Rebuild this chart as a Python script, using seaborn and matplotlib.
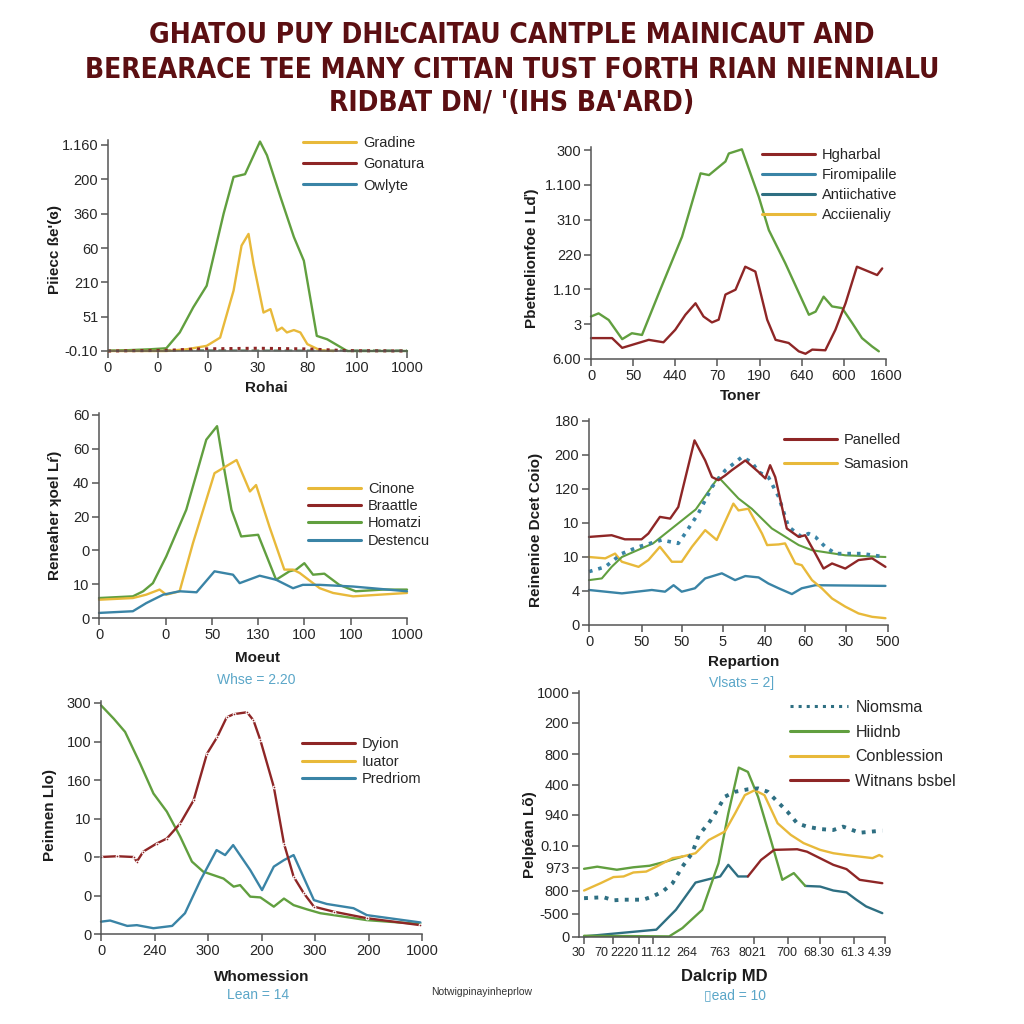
import matplotlib.pyplot as plt
import seaborn as sns
from matplotlib.lines import Line2D

# ---------------- data (x / y in tick-index units) ----------------
# panel 1
p1_xticks = ['0', '0', '0', '30', '80', '100', '1000']
p1_yticks = ['-0.10', '51', '210', '60', '360', '200', '1.160']
p1_green_x = [0, 0.84, 1.17, 1.44, 1.71, 1.98, 2.32, 2.52, 2.75, 3.05, 3.19, 3.46, 3.73, 3.93, 4.19, 4.4, 4.8, 6]
p1_green_y = [0, 0.05, 0.08, 0.54, 1.27, 1.9, 4.0, 5.07, 5.15, 6.1, 5.7, 4.49, 3.32, 2.63, 0.44, 0.34, 0, 0]
p1_yellow_x = [0, 1.17, 1.58, 1.98, 2.25, 2.52, 2.68, 2.82, 2.92, 3.12, 3.26, 3.39, 3.49, 3.59, 3.73, 3.86, 4.0, 4.26, 4.53]
p1_yellow_y = [0, 0, 0.05, 0.15, 0.39, 1.76, 3.07, 3.41, 2.54, 1.12, 1.22, 0.59, 0.68, 0.54, 0.61, 0.54, 0.2, 0.02, 0]
p1_red_x = [0, 1.2, 1.8, 3.0, 4.0, 4.8, 6]
p1_red_y = [0, 0.02, 0.06, 0.08, 0.06, 0.01, 0]
p1_base_x = [0, 1.5, 3.0, 4.5, 6]
p1_base_y = [0.02, 0.03, 0.02, 0.02, 0.02]

# panel 2
p2_xticks = ['0', '50', '440', '70', '190', '640', '600', '1600']
p2_yticks = ['6.00', '3', '1.10', '220', '310', '1.100', '300']
p2_green_x = [0, 0.18, 0.42, 0.74, 0.97, 1.21, 1.61, 2.16, 2.6, 2.8, 3.19, 3.27, 3.58, 3.98, 4.22, 4.61,
              5.17, 5.33, 5.52, 5.72, 5.96, 6.2, 6.43, 6.67, 6.83]
p2_green_y = [1.22, 1.31, 1.12, 0.57, 0.74, 0.69, 1.89, 3.51, 5.33, 5.28, 5.67, 5.9, 6.02, 4.66, 3.7, 2.75,
              1.27, 1.36, 1.79, 1.51, 1.46, 1.03, 0.6, 0.36, 0.22]
p2_red_x = [0, 0.5, 0.74, 1.37, 1.72, 2.0, 2.24, 2.48, 2.67, 2.87, 3.03, 3.19, 3.43, 3.66, 3.9, 4.18, 4.38,
            4.69, 4.93, 5.09, 5.25, 5.56, 5.8, 6.04, 6.31, 6.59, 6.79, 6.91]
p2_red_y = [0.6, 0.6, 0.32, 0.55, 0.48, 0.84, 1.27, 1.6, 1.22, 1.05, 1.13, 1.85, 1.99, 2.65, 2.51, 1.13, 0.55,
            0.46, 0.22, 0.15, 0.27, 0.25, 0.84, 1.6, 2.65, 2.51, 2.41, 2.6]

# panel 3
p3_xpos = [0, 1.30, 2.21, 3.10, 4.0, 4.91, 6.0]
p3_xticks = ['0', '0', '50', '130', '100', '100', '1000']
p3_yticks = ['0', '10', '0', '20', '40', '60', '60']
p3_green_x = [0, 0.66, 0.86, 1.05, 1.31, 1.7, 2.09, 2.3, 2.42, 2.58, 2.77, 3.1, 3.45, 3.71, 3.84, 4.0, 4.17,
              4.39, 4.68, 5.0, 5.53, 6]
p3_green_y = [0.59, 0.64, 0.79, 1.03, 1.82, 3.2, 5.27, 5.67, 4.57, 3.2, 2.41, 2.46, 1.13, 1.38, 1.43, 1.62,
              1.28, 1.31, 0.98, 0.79, 0.84, 0.84]
p3_yellow_x = [0, 0.66, 0.92, 1.18, 1.31, 1.57, 1.83, 2.25, 2.68, 2.94, 3.06, 3.32, 3.61, 3.78, 3.91, 4.3,
               4.56, 4.95, 6]
p3_yellow_y = [0.54, 0.59, 0.69, 0.84, 0.69, 0.79, 2.21, 4.28, 4.67, 3.74, 3.93, 2.7, 1.43, 1.43, 1.33, 0.88,
               0.74, 0.64, 0.74]
p3_blue_x = [0, 0.66, 0.92, 1.25, 1.57, 1.9, 2.25, 2.61, 2.74, 3.13, 3.45, 3.78, 3.97, 4.3, 4.95, 6]
p3_blue_y = [0.15, 0.2, 0.44, 0.69, 0.79, 0.76, 1.38, 1.28, 1.03, 1.25, 1.13, 0.88, 0.98, 0.98, 0.93, 0.79]

# panel 4
p4_xpos = [0, 1.23, 2.17, 3.13, 4.11, 5.06, 6.02, 7.0]
p4_xticks = ['0', '50', '50', '5', '40', '60', '30', '500']
p4_yticks = ['0', '4', '10', '10', '120', '200', '180']
p4_red_x = [0, 0.53, 0.84, 1.23, 1.39, 1.66, 1.9, 2.09, 2.47, 2.72, 2.88, 3.03, 3.19, 3.34, 3.66, 3.97, 4.13,
            4.24, 4.36, 4.63, 4.91, 5.06, 5.3, 5.49, 5.69, 6.0, 6.31, 6.63, 6.94]
p4_red_y = [2.59, 2.64, 2.52, 2.52, 2.69, 3.18, 3.13, 3.47, 5.43, 4.84, 4.35, 4.26, 4.4, 4.55, 4.84, 4.5, 4.31,
            4.7, 4.35, 2.84, 2.59, 2.64, 2.1, 1.66, 1.81, 1.66, 1.91, 1.96, 1.71]
p4_dots_x = [0, 0.38, 0.77, 1.16, 1.7, 2.09, 2.25, 2.56, 2.88, 3.19, 3.58, 3.81, 3.97, 4.2, 4.44, 4.67, 4.98,
             5.14, 5.3, 5.53, 5.77, 6.39, 6.94]
p4_dots_y = [1.57, 1.71, 2.1, 2.3, 2.5, 2.4, 2.69, 3.28, 4.06, 4.55, 4.94, 4.79, 4.5, 4.35, 3.77, 2.89, 2.59,
             2.69, 2.59, 2.3, 2.1, 2.1, 2.0]
p4_green_x = [0, 0.3, 0.53, 0.77, 1.5, 2.5, 3.03, 3.5, 3.81, 4.28, 4.91, 5.22, 6.0, 6.94]
p4_green_y = [1.32, 1.37, 1.71, 2.0, 2.4, 3.4, 4.35, 3.72, 3.42, 2.84, 2.35, 2.2, 2.05, 2.0]
p4_yellow_x = [0, 0.38, 0.61, 0.77, 1.16, 1.39, 1.66, 1.94, 2.17, 2.41, 2.72, 2.99, 3.38, 3.5, 3.73, 4.05,
               4.17, 4.44, 4.59, 4.83, 4.98, 5.22, 5.45, 5.69, 6.0, 6.31, 6.63, 6.94]
p4_yellow_y = [2.0, 1.96, 2.1, 1.86, 1.71, 1.91, 2.3, 1.86, 1.86, 2.3, 2.79, 2.5, 3.57, 3.37, 3.42, 2.69,
               2.35, 2.37, 2.4, 1.81, 1.76, 1.32, 1.08, 0.78, 0.54, 0.34, 0.24, 0.2]
p4_blue_x = [0, 0.77, 1.47, 1.78, 1.98, 2.17, 2.48, 2.72, 3.11, 3.42, 3.66, 3.97, 4.2, 4.44, 4.75, 4.98, 5.3,
             6.94]
p4_blue_y = [1.03, 0.93, 1.03, 0.98, 1.17, 0.98, 1.08, 1.37, 1.52, 1.32, 1.44, 1.4, 1.22, 1.08, 0.91, 1.08,
             1.17, 1.15]

# panel 5
p5_xticks = ['0', '240', '300', '200', '300', '200', '1000']
p5_yticks = ['0', '0', '0', '10', '160', '100', '300']
p5_green_x = [0, 0.24, 0.45, 0.73, 0.98, 1.23, 1.48, 1.7, 1.91, 2.1, 2.29, 2.48, 2.6, 2.79, 2.98, 3.23, 3.42,
              3.6, 3.85, 4.1, 4.35, 4.97, 5.97]
p5_green_y = [5.94, 5.59, 5.25, 4.43, 3.65, 3.18, 2.53, 1.88, 1.62, 1.53, 1.44, 1.23, 1.27, 0.97, 0.95, 0.71,
              0.92, 0.75, 0.64, 0.54, 0.49, 0.36, 0.26]
p5_red_x = [0, 0.3, 0.61, 0.67, 0.79, 1.04, 1.23, 1.48, 1.73, 1.98, 2.17, 2.35, 2.48, 2.73, 2.85, 2.98, 3.23,
            3.42, 3.6, 3.79, 3.98, 4.35, 4.97, 5.97]
p5_red_y = [2.0, 2.02, 2.0, 1.88, 2.14, 2.35, 2.48, 2.87, 3.47, 4.68, 5.11, 5.63, 5.71, 5.76, 5.55, 5.03, 3.82,
            2.35, 1.49, 1.06, 0.71, 0.58, 0.41, 0.23]
p5_blue_x = [0, 0.17, 0.49, 0.67, 0.98, 1.33, 1.57, 1.86, 2.16, 2.32, 2.47, 2.79, 3.01, 3.23, 3.42, 3.6, 3.98,
             4.22, 4.72, 4.97, 5.97]
p5_blue_y = [0.32, 0.35, 0.21, 0.23, 0.15, 0.21, 0.54, 1.4, 2.18, 2.05, 2.31, 1.66, 1.14, 1.75, 1.92, 2.05,
             0.88, 0.78, 0.67, 0.49, 0.3]

# panel 6
p6_xmarks = [0, 0.87, 1.63, 2.04, 3.03, 4.02, 5.04, 6.03, 6.99, 7.98, 8.91]
p6_xpos = [-0.15, 0.5, 1.2, 2.12, 3.03, 4.02, 4.98, 6.0, 6.95, 7.95, 8.75]
p6_xticks = ['30', '70', '2220', '11.12', '264', '763', '8021', '700', '68.30', '61.3', '4.39']
p6_ypos = [0, 0.76, 1.52, 2.26, 2.98, 4.0, 4.98, 5.97, 7.0, 7.98]
p6_yticks = ['0', '-500', '800', '973', '0.10', '940', '400', '800', '200', '1000']
p6_dots_x = [0, 0.58, 0.87, 1.17, 1.75, 2.04, 2.33, 2.62, 2.91, 3.2, 3.4, 3.69, 3.88, 4.17, 4.47, 4.85, 5.15,
             5.44, 5.73, 6.02, 6.31, 6.6, 6.99, 7.38, 7.67, 8.16, 8.83]
p6_dots_y = [1.27, 1.3, 1.2, 1.22, 1.22, 1.33, 1.49, 1.76, 2.3, 2.74, 3.34, 3.72, 4.04, 4.59, 4.75, 4.83, 4.86,
             4.75, 4.42, 4.1, 3.72, 3.61, 3.53, 3.5, 3.61, 3.41, 3.48]
p6_yellow_x = [0, 0.49, 0.87, 1.17, 1.46, 1.84, 2.14, 2.62, 2.91, 3.3, 3.69, 4.17, 4.47, 4.76, 5.05, 5.34, 5.73,
               6.12, 6.5, 6.99, 7.38, 7.77, 8.16, 8.54, 8.74, 8.83]
p6_yellow_y = [1.52, 1.76, 1.96, 1.98, 2.11, 2.14, 2.3, 2.58, 2.63, 2.74, 3.17, 3.45, 4.04, 4.64, 4.8, 4.64,
               3.72, 3.34, 3.07, 2.85, 2.74, 2.68, 2.63, 2.58, 2.68, 2.63]
p6_red_x = [4.85, 5.24, 5.63, 6.31, 6.6, 7.38, 7.77, 8.16, 8.83]
p6_red_y = [1.98, 2.52, 2.85, 2.87, 2.79, 2.36, 2.22, 1.87, 1.76]
p6_teal_x = [0, 2.14, 2.72, 3.3, 3.69, 4.03, 4.27, 4.56, 4.85]
p6_teal_y = [0.02, 0.24, 0.89, 1.78, 1.89, 1.98, 2.36, 1.98, 1.98]
p6_tail_x = [6.55, 6.99, 7.38, 7.77, 8.06, 8.35, 8.83]
p6_tail_y = [1.67, 1.65, 1.52, 1.46, 1.22, 1.0, 0.78]
p6_green_x = [0, 0.39, 0.97, 1.46, 1.94, 2.43, 2.91]
p6_green_y = [2.23, 2.3, 2.2, 2.28, 2.33, 2.47, 2.63]
p6_spike_x = [0, 2.52, 2.91, 3.5, 3.98, 4.27, 4.58, 4.85, 5.15, 5.53, 5.87, 6.21, 6.55]
p6_spike_y = [0.04, 0.02, 0.29, 0.89, 2.41, 4.04, 5.54, 5.4, 4.59, 3.17, 1.87, 2.09, 1.67]

title_lines = ['GHATOU PUY DHĿCAITAU CANTPLE MAINICAUT AND',
               'BEREARACE TEE MANY CITTAN TUST FORTH RIAN NIENNIALU',
               "RIDBAT DN/ '(IHS BA'ARD)"]

# ---------------- style ----------------
sns.set_theme(style='ticks')
plt.rcParams['font.family'] = ['Liberation Sans', 'DejaVu Sans']

GREEN = '#619f3f'
YELLOW = '#e8b93a'
RED = '#8e2626'
BLUE = '#3a84a6'
TEAL = '#2e6f82'
SUB = '#5aa6c8'
W = H = 1024

fig = plt.figure(figsize=(10.24, 10.24), dpi=100)


def make_axes(xa, xb, ya, yb, xd, yd, xlim, ylim):
    """xa/xb: pixel of data xd[0]/xd[1]; ya/yb: pixel (from top) of yd[0]/yd[1]"""
    sx = (xb - xa) / (xd[1] - xd[0])
    sy = (yb - ya) / (yd[1] - yd[0])
    left = xa + (xlim[0] - xd[0]) * sx
    right = xa + (xlim[1] - xd[0]) * sx
    bottom = ya + (ylim[0] - yd[0]) * sy
    top = ya + (ylim[1] - yd[0]) * sy
    ax = fig.add_axes([left / W, 1 - bottom / H, (right - left) / W, (bottom - top) / H])
    ax.set_xlim(*xlim)
    ax.set_ylim(*ylim)
    sns.despine(ax=ax)
    for s in ['left', 'bottom']:
        ax.spines[s].set_color('#555555')
        ax.spines[s].set_linewidth(1.1)
    ax.tick_params(direction='out', length=5, width=1.1, color='#555555',
                   labelsize=10.5, labelcolor='#262626', pad=2)
    return ax


def line(ax, x, y, color, **kw):
    sns.lineplot(x=x, y=y, ax=ax, color=color, sort=False, linewidth=kw.pop('lw', 1.7),
                 estimator=None, clip_on=False, **kw)


def legend(ax, items, px, py, size, spacing):
    handles = [Line2D([], [], color=c, lw=2.2, ls=ls) for _, c, ls in items]
    labels = [t for t, _, _ in items]
    ax.legend(handles, labels, loc='upper left', bbox_to_anchor=(px / W, 1 - py / H),
              bbox_transform=fig.transFigure, frameon=False, fontsize=size,
              handlelength=3.6, handletextpad=0.5, labelspacing=spacing, borderpad=0, borderaxespad=0)


def label(x, y, s, rot=0, size=11):
    fig.text(x / W, 1 - y / H, s, ha='center', va='center', rotation=rot,
             fontsize=size, fontweight='bold', color='#1c1c1c')


def note(x, y, s, color=SUB, size=10):
    fig.text(x / W, 1 - y / H, s, ha='center', va='center', fontsize=size, color=color)


# title
for i, t in enumerate(title_lines):
    fig.text(0.5, 1 - [35, 70, 103][i] / H, t, ha='center', va='center', fontsize=20.2,
             fontweight='bold', color='#5c0f12', stretch='condensed',
             family=['Liberation Sans Narrow', 'DejaVu Sans'])

# ---- panel 1 ----
ax1 = make_axes(108, 407, 351, 145, (0, 6), (0, 6), (0, 6), (0, 6.15))
line(ax1, p1_base_x, p1_base_y, '#7fa48a', ls='--', lw=1.5)
line(ax1, p1_green_x, p1_green_y, GREEN)
line(ax1, p1_yellow_x, p1_yellow_y, YELLOW)
line(ax1, p1_red_x, p1_red_y, RED, ls=':', lw=2.2)
ax1.set_xticks(range(7), p1_xticks)
ax1.set_yticks(range(7), p1_yticks)
legend(ax1, [('Gradine', YELLOW, '-'), ('Gonatura', RED, '-'), ('Owlyte', BLUE, '-')], 303, 136, 10.5, 0.5)
label(266, 388, 'Rohai')
label(55, 250, "Piiecc ße'(ɞ)", rot=90)

# ---- panel 2 ----
ax2 = make_axes(591, 886, 359, 150, (0, 7), (0, 6), (0, 7), (0, 6.1))
line(ax2, p2_green_x, p2_green_y, GREEN)
line(ax2, p2_red_x, p2_red_y, RED)
ax2.set_xticks(range(8), p2_xticks)
ax2.set_yticks(range(7), p2_yticks)
legend(ax2, [('Hgharbal', RED, '-'), ('Firomipalile', BLUE, '-'), ('Antiichative', TEAL, '-'),
             ('Acciienaliy', YELLOW, '-')], 762, 148, 10.5, 0.42)
label(740, 396, 'Toner')
label(532, 258, 'Pbetnelionfoe I Lď)', rot=90)

# ---- panel 3 ----
ax3 = make_axes(99, 407, 618, 415, (0, 6), (0, 6), (0, 6), (0, 6.05))
line(ax3, p3_green_x, p3_green_y, GREEN)
line(ax3, p3_yellow_x, p3_yellow_y, YELLOW)
line(ax3, p3_blue_x, p3_blue_y, BLUE)
ax3.set_xticks(p3_xpos, p3_xticks)
ax3.set_yticks(range(7), p3_yticks)
legend(ax3, [('Cinone', YELLOW, '-'), ('Braattle', RED, '-'), ('Homatzi', GREEN, '-'),
             ('Destencu', BLUE, '-')], 308, 482, 10.5, 0.22)
label(257, 658, 'Moeut')
label(55, 515, 'Reneaher ʞoel Lŕ)', rot=90)
note(256, 680, 'Whse = 2.20')

# ---- panel 4 ----
ax4 = make_axes(589, 888, 625, 421, (0, 7), (0, 6), (0, 7), (0, 6.05))
line(ax4, p4_blue_x, p4_blue_y, BLUE)
line(ax4, p4_yellow_x, p4_yellow_y, YELLOW)
line(ax4, p4_green_x, p4_green_y, GREEN, lw=1.5)
line(ax4, p4_dots_x, p4_dots_y, BLUE, ls=':', lw=2.6)
line(ax4, p4_red_x, p4_red_y, RED)
ax4.set_xticks(p4_xpos, p4_xticks)
ax4.set_yticks(range(7), p4_yticks)
legend(ax4, [('Panelled', RED, '-'), ('Samasion', YELLOW, '-')], 784, 433, 10.5, 0.72)
label(744, 662, 'Repartion')
label(536, 530, 'Reinenioe Dcet Coio)', rot=90)
note(742, 683, 'Vlsats = 2]')

# ---- panel 5 ----
ax5 = make_axes(101, 422, 934, 703, (0, 6), (0, 6), (0, 6), (0, 6.05))
line(ax5, p5_green_x, p5_green_y, GREEN)
line(ax5, p5_blue_x, p5_blue_y, BLUE)
line(ax5, p5_red_x, p5_red_y, RED, marker='.', markersize=4)
ax5.set_xticks(range(7), p5_xticks)
ax5.set_yticks(range(7), p5_yticks)
legend(ax5, [('Dyion', RED, '-'), ('Iuator', YELLOW, '-'), ('Predriom', BLUE, '-')], 302, 737, 10.5, 0.25)
label(262, 977, 'Whomession')
label(50, 815, 'Peinnen Llo)', rot=90)
note(258, 995, 'Lean = 14')
note(482, 992, 'Notwigpinayinheprlow', color='#333333', size=7.5)

# ---- panel 6 ----
ax6 = make_axes(579, 885, 937, 693, (0, 8.91), (0, 7.98), (0, 8.91), (0, 8.05))
line(ax6, p6_teal_x, p6_teal_y, TEAL)
line(ax6, p6_tail_x, p6_tail_y, TEAL)
line(ax6, p6_spike_x, p6_spike_y, GREEN)
line(ax6, p6_green_x, p6_green_y, GREEN)
line(ax6, p6_yellow_x, p6_yellow_y, YELLOW)
line(ax6, p6_red_x, p6_red_y, RED)
line(ax6, p6_dots_x, p6_dots_y, TEAL, ls=':', lw=2.8)
ax6.set_xticks(p6_xmarks, minor=True)
ax6.set_xticks(p6_xpos, p6_xticks)
ax6.tick_params(axis='x', which='major', length=0, pad=7, labelsize=9)
ax6.tick_params(axis='x', which='minor', direction='out', length=5, width=1.1, color='#555555')
ax6.set_yticks(p6_ypos, p6_yticks)
legend(ax6, [('Niomsma', TEAL, ':'), ('Hiidnb', GREEN, '-'), ('Conblession', YELLOW, '-'),
             ('Witnans bsbel', RED, '-')], 790, 700, 11.5, 0.6)
label(724, 976, 'Dalcrip MD', size=12)
label(530, 835, 'Pelpéan Lõ)', rot=90)
note(735, 995, '▯ead = 10')

fig.savefig('out.png', dpi=100)
